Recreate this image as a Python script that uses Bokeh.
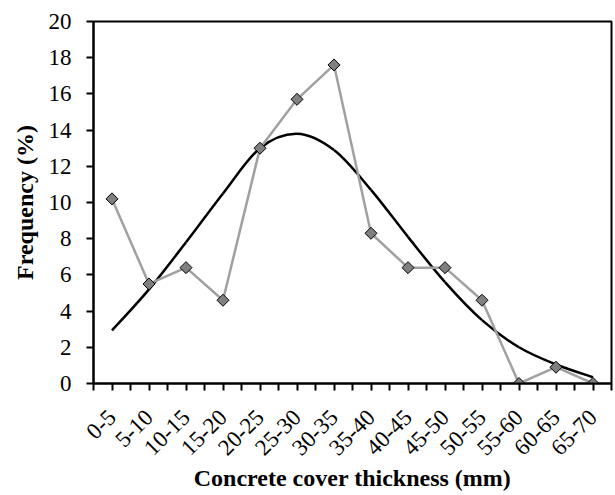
import math
from bokeh.plotting import figure
from bokeh.models import FixedTicker, Range1d, ColumnDataSource
from bokeh.embed import file_html
from bokeh.resources import INLINE

# ---- data ----
categories = ["0-5", "5-10", "10-15", "15-20", "20-25", "25-30", "30-35",
              "35-40", "40-45", "45-50", "50-55", "55-60", "60-65", "65-70"]
frequency = [10.2, 5.5, 6.4, 4.6, 13.0, 15.7, 17.6, 8.3, 6.4, 6.4, 4.6, 0.0, 0.9, 0.0]
normal_fit = [2.93, 5.2, 7.8, 10.5, 13.0, 13.8, 12.9, 10.7, 8.1, 5.6, 3.5, 2.0, 1.05, 0.35]
y_ticks = [0, 2, 4, 6, 8, 10, 12, 14, 16, 18, 20]

FONT = "Liberation Serif"

xs = list(range(len(categories)))

p = figure(frame_width=518, frame_height=362,
           x_range=Range1d(-0.5, len(categories) - 0.5), y_range=Range1d(0, 20),
           output_backend="svg", toolbar_location=None,
           min_border_left=93, min_border_right=3, min_border_top=21, min_border_bottom=111)

p.background_fill_color = "white"
p.border_fill_color = "white"
p.outline_line_color = "black"
p.outline_line_width = 2
p.xgrid.visible = False
p.ygrid.visible = False

# smoothed normal-fit curve (Excel-like smoothing: cubic Bezier segments through the points)
n = len(normal_fit)
seg = dict(x0=[], y0=[], x1=[], y1=[], cx0=[], cy0=[], cx1=[], cy1=[])
for i in range(n - 1):
    i0 = max(i - 1, 0)
    i3 = min(i + 2, n - 1)
    seg["x0"].append(xs[i]); seg["y0"].append(normal_fit[i])
    seg["x1"].append(xs[i + 1]); seg["y1"].append(normal_fit[i + 1])
    seg["cx0"].append(xs[i] + (xs[i + 1] - xs[i0]) / 6)
    seg["cy0"].append(normal_fit[i] + (normal_fit[i + 1] - normal_fit[i0]) / 6)
    seg["cx1"].append(xs[i + 1] - (xs[i3] - xs[i]) / 6)
    seg["cy1"].append(normal_fit[i + 1] - (normal_fit[i3] - normal_fit[i]) / 6)
p.bezier(x0="x0", y0="y0", x1="x1", y1="y1", cx0="cx0", cy0="cy0", cx1="cx1", cy1="cy1",
         source=ColumnDataSource(seg), line_color="black", line_width=2.5)

# frequency polygon
src = ColumnDataSource(dict(x=xs, y=frequency))
p.line("x", "y", source=src, line_color="#a0a0a0", line_width=2.5)
p.scatter("x", "y", source=src, marker="square", size=8.5, angle=math.pi / 4,
          fill_color="#808080", line_color="black", line_width=1)

# axes
xa = p.xaxis[0]
xa.ticker = FixedTicker(ticks=xs, minor_ticks=[i - 0.5 for i in range(len(categories) + 1)])
xa.major_label_overrides = {i: c for i, c in enumerate(categories)}
xa.major_label_orientation = math.pi / 4
xa.major_label_standoff = 23
xa.axis_label = "Concrete cover thickness (mm)"
xa.axis_label_standoff = 0

ya = p.yaxis[0]
ya.ticker = FixedTicker(ticks=y_ticks)
ya.minor_tick_line_color = None
ya.axis_label = "Frequency (%)"
ya.major_label_standoff = 15
ya.axis_label_standoff = 8

for ax in (xa, ya):
    ax.axis_line_color = "black"
    ax.axis_line_width = 2
    ax.major_tick_line_color = "black"
    ax.major_tick_line_width = 2
    ax.major_tick_out = 7
    ax.major_tick_in = 0
    ax.minor_tick_line_width = 2
    ax.minor_tick_out = 7
    ax.minor_tick_in = 0
    ax.major_label_text_font = FONT
    ax.major_label_text_font_size = "23px"
    ax.major_label_text_color = "black"
    ax.axis_label_text_font = FONT
    ax.axis_label_text_font_size = "24px"
    ax.axis_label_text_font_style = "bold"
    ax.axis_label_text_color = "black"
xa.minor_tick_line_color = "black"

open("out.html", "w").write(file_html(p, INLINE))
